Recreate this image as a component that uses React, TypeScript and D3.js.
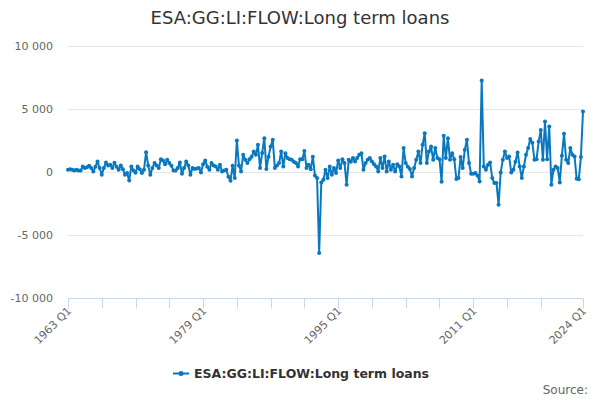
import { useEffect, useRef } from 'react';
import * as d3 from 'd3';

const title = 'ESA:GG:LI:FLOW:Long term loans';
const seriesName = 'ESA:GG:LI:FLOW:Long term loans';

// quarters 1963 Q1 .. 2024 Q1
const categories: string[] = [];
for (let y = 1963; y <= 2024; y++) {
  for (let q = 1; q <= 4; q++) {
    if (y === 2024 && q > 1) break;
    categories.push(`${y} Q${q}`);
  }
}

const values: number[] = [
  150, 200, 150, 100, 150, 100, 100, 420, 300, 350, 470, 300, 20, 400, 820, 300,
  -240, 300, 740, 500, 550, 300, 710, 400, 160, 500, 200, -240, -100, -690, 420, 100,
  -80, 420, 200, -100, 160, 1560, 500, -240, 300, 690, 500, 290, 1000, 900, 600, 950,
  700, 470, 100, 100, 300, 740, -160, 300, 820, 500, -240, 290, 210, 250, 290, -50,
  600, 900, 400, 160, 690, 500, 420, 160, 550, 20, 100, 160, -400, -710, 470, -500,
  2490, 500, 20, 1350, 950, 700, 1000, 1200, 1610, 1350, 2140, 290, 1500, 2670, 210, 1200,
  2010, 2540, 290, 500, 690, 1610, 420, 1480, 1090, 1000, 950, 800, 690, 420, 1000, 1000,
  1650, 300, 550, 200, 1200, -300, -500, -6460, -850, -640, 160, -500, 420, -240, 290, -100,
  900, 290, 1000, 690, -1030, 950, 800, 1090, 820, 1090, 1350, 1480, 160, 690, 950, 1090,
  820, 600, 420, 20, 1090, 290, 1210, 20, 820, 160, 550, 20, 600, 420, -370, 1880,
  690, 400, 210, -370, 290, 950, 1610, 690, 2140, 3070, 690, 1610, 2010, 950, 1880, 1090,
  1000, -800, 2860, 1090, 2670, 950, 1480, 1000, -580, -500, 1170, 290, 1750, 2540, 690, -160,
  -150, -100, -300, -770, 7250, 420, 160, 550, 740, -500, -900, -900, -2620, -50, 950, 1610,
  1090, 1210, -50, 160, 800, 1530, 420, -500, 420, 1350, 1880, 2600, 2300, 950, 1000, 2410,
  3330, 950, 4000, 1000, 3600, -1030, 160, 420, 290, -850, 1270, 3020, 950, 690, 1880, 1350,
  1210, -560, -600, 1170, 4790,
];

const yTicks = [10000, 5000, 0, -5000, -10000];
const labelIdx = [0, 64, 128, 192, 244];

const W = 600;
const H = 400;
const color = '#0a78be';

export default function App() {
  const svgRef = useRef<SVGSVGElement>(null);

  useEffect(() => {
    if (!svgRef.current) return;
    const svg = d3.select(svgRef.current);
    svg.selectAll('*').remove();

    const font = '"DejaVu Sans", sans-serif';
    const x = d3.scaleLinear().domain([0, categories.length - 1]).range([68, 583]);
    const y = d3.scaleLinear().domain([-10000, 10000]).range([297.5, 46]);

    svg.append('rect').attr('width', W).attr('height', H).attr('fill', '#fff');

    // title
    svg.append('text')
      .attr('x', W / 2)
      .attr('y', 24)
      .attr('text-anchor', 'middle')
      .style('font-family', font)
      .style('font-size', '18px')
      .style('fill', '#333')
      .text(title);

    // grid + y labels
    const grid = svg.append('g');
    yTicks.forEach((t) => {
      if (t !== -10000) {
        grid.append('line')
          .attr('x1', 68).attr('x2', 583)
          .attr('y1', Math.round(y(t)) + 0.5).attr('y2', Math.round(y(t)) + 0.5)
          .attr('stroke', '#e6e6e6');
      }
      grid.append('text')
        .attr('x', 53)
        .attr('y', y(t) + 4)
        .attr('text-anchor', 'end')
        .style('font-family', font)
        .style('font-size', '11px')
        .style('fill', '#666')
        .text(d3.format(',')(t).replace(/,/g, ' ').replace('−', '-'));
    });

    // x axis
    const axis = svg.append('g');
    const axisY = Math.round(y(-10000)) + 0.5;
    axis.append('line')
      .attr('x1', 68).attr('x2', 583)
      .attr('y1', axisY).attr('y2', axisY)
      .attr('stroke', '#ccd6eb');
    const tickIdx = d3.range(0, 225, 16).concat([categories.length - 1]);
    tickIdx.forEach((i) => {
      const tx = Math.round(x(i)) + 0.5;
      axis.append('line')
        .attr('x1', tx).attr('x2', tx)
        .attr('y1', axisY).attr('y2', axisY + 10)
        .attr('stroke', '#ccd6eb');
    });
    labelIdx.forEach((i) => {
      axis.append('text')
        .attr('transform', `translate(${x(i) + 4},${axisY + 13}) rotate(-45)`)
        .attr('text-anchor', 'end')
        .style('font-family', font)
        .style('font-size', '11px')
        .style('fill', '#666')
        .text(categories[i]);
    });

    // series
    const line = d3.line<number>()
      .x((_, i) => x(i))
      .y((d) => y(d));
    svg.append('path')
      .datum(values)
      .attr('d', line)
      .attr('fill', 'none')
      .attr('stroke', color)
      .attr('stroke-width', 2)
      .attr('stroke-linejoin', 'round');
    svg.append('g')
      .selectAll('circle')
      .data(values)
      .join('circle')
      .attr('cx', (_, i) => x(i))
      .attr('cy', (d) => y(d))
      .attr('r', 2)
      .attr('fill', color);

    // legend
    const lg = svg.append('g');
    lg.append('line')
      .attr('x1', 173).attr('x2', 189)
      .attr('y1', 373.5).attr('y2', 373.5)
      .attr('stroke', color).attr('stroke-width', 2);
    lg.append('circle').attr('cx', 181).attr('cy', 373.5).attr('r', 2.5).attr('fill', color);
    lg.append('text')
      .attr('x', 194)
      .attr('y', 378)
      .style('font-family', font)
      .style('font-size', '12.5px')
      .style('font-weight', 'bold')
      .style('fill', '#333')
      .text(seriesName);

    // credits
    svg.append('text')
      .attr('x', 588)
      .attr('y', 394)
      .attr('text-anchor', 'end')
      .style('font-family', font)
      .style('font-size', '12px')
      .style('fill', '#666')
      .text('Source:');
  }, []);

  return (
    <div style={{ position: 'absolute', left: 0, top: 0 }}>
      <svg ref={svgRef} width={W} height={H} style={{ display: 'block' }} />
    </div>
  );
}
